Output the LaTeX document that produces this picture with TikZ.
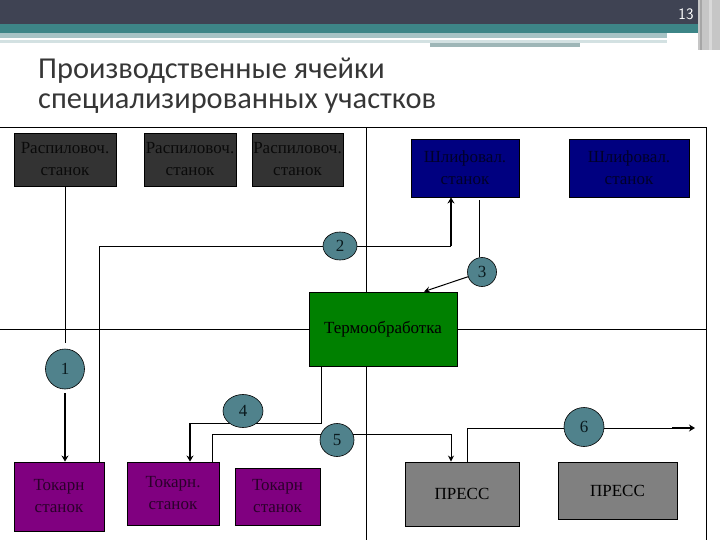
\documentclass[tikz,border=0pt]{standalone}
\usepackage{fontspec}
\setmainfont{Liberation Serif}
\newfontfamily\titlefont{Carlito}
\usetikzlibrary{arrows.meta,shapes.geometric}
\pgfdeclarelayer{bg}
\pgfsetlayers{bg,main}
\definecolor{hdrdark}{HTML}{3F4353}
\definecolor{hdrteal}{HTML}{3D8587}
\definecolor{hdrlight}{HTML}{A6C3C5}
\definecolor{cirfill}{HTML}{50828C}
\definecolor{sawfill}{HTML}{333333}
\definecolor{grindfill}{HTML}{000080}
\definecolor{heatfill}{HTML}{008000}
\definecolor{lathefill}{HTML}{800080}
\definecolor{pressfill}{HTML}{808080}
\definecolor{titlegray}{HTML}{363636}
\definecolor{sawtext}{HTML}{0A0A0A}
\definecolor{grindtext}{HTML}{00002A}
\definecolor{lathetext}{HTML}{2A002A}
\definecolor{circtext}{HTML}{0A1A1E}
\tikzset{
  mbox/.style={draw=black, line width=0.9pt, inner sep=0pt, align=center, text=black,
    font=\fontsize{17}{22}\selectfont},
  circ/.style={ellipse, draw=black, line width=0.6pt, fill=cirfill, inner sep=0pt,
    text=circtext, font=\fontsize{17}{18}\selectfont},
  conn/.style={line width=1pt, draw=black},
  arr/.style={line width=1pt, draw=black, -{Stealth[length=6pt,width=6pt]}},
  tharr/.style={line width=1.8pt, draw=black, -{Stealth[length=6pt,width=7pt]}},
}
\begin{document}
\begin{tikzpicture}[x=1pt,y=-1pt]
\useasboundingbox (0,0) rectangle (720,540);
% header
\fill[hdrdark] (0,0) rectangle (698,24);
\fill[hdrteal] (0,24) rectangle (698,33);
\fill[hdrlight] (0,33) rectangle (667,38);
\fill[hdrlight!50] (0,40) rectangle (667,43);
\fill[hdrlight!80!gray] (430,43) rectangle (580,47);
\fill[gray!45] (698,0) rectangle (720,50);
\fill[gray!70] (700,0) rectangle (702,50);
\fill[gray!30] (709,0) rectangle (712,50);
\node[text=white, font=\fontsize{16}{16}\selectfont\sffamily] (pg) at (686,14) {13};
% title
\node[anchor=north west, align=left, text=titlegray, font=\fontsize{30.4}{30}\titlefont, inner sep=0pt] (ttl) at (38,58) {Производственные ячейки\\специализированных участков};
% boxes
\node[mbox, fill=sawfill, text=sawtext, minimum width=102pt, minimum height=53pt] (r1) at (65,159.5) {Распиловоч.\\станок};
\node[mbox, fill=sawfill, text=sawtext, minimum width=92pt, minimum height=53pt] (r2) at (190,159.5) {Распиловоч.\\станок};
\node[mbox, fill=sawfill, text=sawtext, minimum width=91pt, minimum height=53pt] (r3) at (297.5,159.5) {Распиловоч.\\станок};
\node[mbox, fill=grindfill, text=grindtext, minimum width=108pt, minimum height=58pt] (s1) at (465,168) {Шлифовал.\\станок};
\node[mbox, fill=grindfill, text=grindtext, minimum width=120pt, minimum height=58pt] (s2) at (629,168) {Шлифовал.\\станок};
\node[mbox, fill=heatfill, minimum width=148pt, minimum height=74pt] (th) at (383,329) {Термообработка};
\node[mbox, fill=lathefill, text=lathetext, minimum width=90pt, minimum height=69pt] (t1) at (59,496.5) {Токарн\\станок};
\node[mbox, fill=lathefill, text=lathetext, minimum width=92pt, minimum height=63pt] (t2) at (173,493.5) {Токарн.\\станок};
\node[mbox, fill=lathefill, text=lathetext, minimum width=85pt, minimum height=57pt] (t3) at (277.5,496.5) {Токарн\\станок};
\node[mbox, fill=pressfill, minimum width=114pt, minimum height=64pt] (p1) at (462,494) {ПРЕСС};
\node[mbox, fill=pressfill, minimum width=119pt, minimum height=57pt] (p2) at (617.5,490.5) {ПРЕСС};
% circles
\node[circ, minimum width=39pt, minimum height=40pt] (c1) at (65,369) {1};
\node[circ, minimum width=34pt, minimum height=28pt] (c2) at (340,246) {2};
\node[circ, minimum width=29pt, minimum height=29pt] (c3) at (482,272) {3};
\node[circ, minimum width=40pt, minimum height=33pt] (c4) at (243,411) {4};
\node[circ, minimum width=34pt, minimum height=33pt] (c5) at (337,440) {5};
\node[circ, minimum width=40pt, minimum height=39pt] (c6) at (584,427) {6};
% coordinates
\coordinate (k1) at (65,343);
\coordinate (k2) at (451,246);
\coordinate (k4a) at (321,423);
\coordinate (k4b) at (190,423);
\coordinate (k5a) at (212,434);
\coordinate (k5b) at (451,434);
\coordinate (k6a) at (467,428);
\coordinate (k6b) at (672,428);
\coordinate (k6c) at (695,428);
\begin{pgfonlayer}{bg}
% frame and dividers
\draw[conn] (0,128) -- (706,128) -- (706,540);
\draw[conn] (0,329) -- (th.west);
\draw[conn] (th.east) -- (706,329);
\draw[conn] (366,128) -- ([xshift=-17pt]th.north);
\draw[conn] ([xshift=-17pt]th.south) -- (366,540);
% connector 1
\draw[conn] (r1.south) -- (k1);
\draw[tharr] ([yshift=-4pt]c1.south) -- (c1.south |- t1.north);
% connector 2
\draw[conn] ([xshift=-5pt]t1.north east) |- (c2.west);
\draw[conn] (c2.east) -- (k2);
\draw[tharr] (k2) -- (k2 |- s1.south);
% connector 3
\draw[conn] ([xshift=14pt,yshift=-3pt]s1.south) -- ([xshift=14pt]s1.south |- c3.north);
\draw[arr] (c3) -- ([xshift=41pt]th.north);
% connector 4
\draw[conn] (k4a |- th.south) -- (k4a) -- (k4b);
\draw[tharr] (k4b) -- (k4b |- t2.north);
% connector 5
\draw[conn] (k5a |- t2.north) -- (k5a) -- (k5b);
\draw[arr] (k5b) -- (k5b |- p1.north);
% connector 6
\draw[conn] (k6a |- p1.north) -- (k6a) -- (k6b);
\draw[tharr] (k6b) -- (k6c);
\end{pgfonlayer}
\end{tikzpicture}
\end{document}
